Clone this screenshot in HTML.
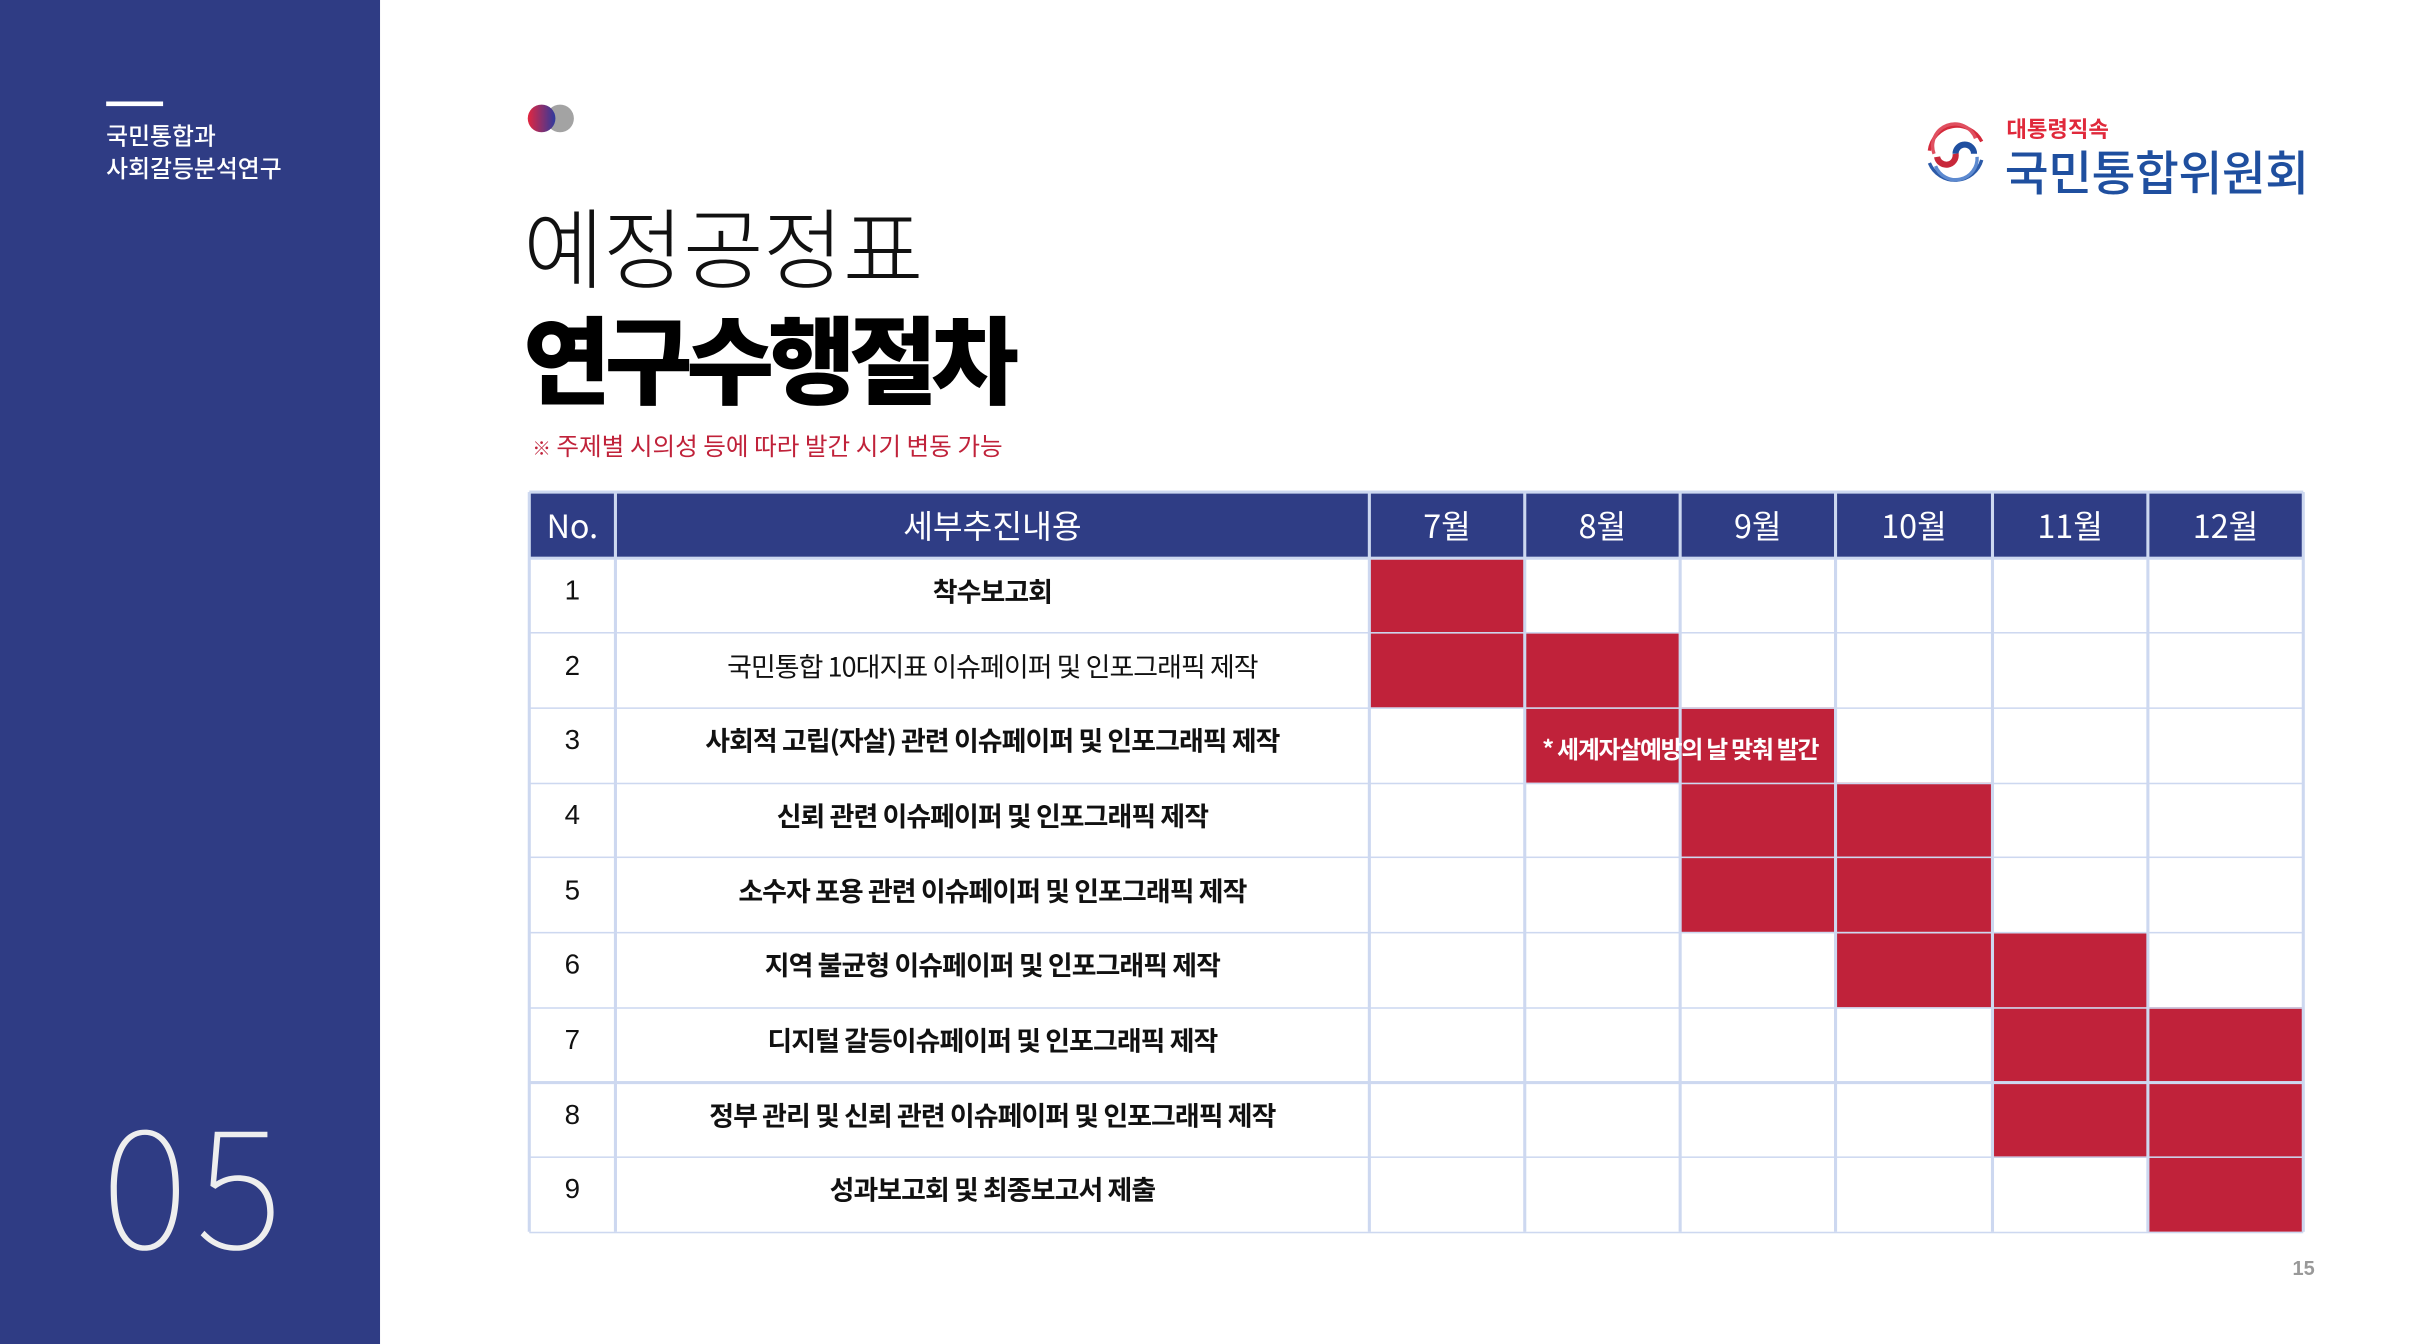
<!DOCTYPE html>
<html><head><meta charset="utf-8">
<style>
html,body{margin:0;padding:0;width:2412px;height:1344px;overflow:hidden;background:#fff}
#stage{position:absolute;left:0;top:0;width:1568px;height:874px;transform:scale(1.5386,1.53776);transform-origin:0 0;font-family:"Liberation Sans","Noto Sans CJK KR",sans-serif}
.abs{position:absolute}
#side{left:0;top:0;width:247px;height:874px;background:#2f3c84}
.cell{position:absolute;display:flex;align-items:center;justify-content:center;box-sizing:border-box;white-space:nowrap}
</style></head><body>
<div id="stage">
 <div id="side" class="abs">
  <div class="abs" style="left:69px;top:66px;width:37px;height:3px;background:#fff"></div>
  <div class="abs" style="left:69px;top:78px;color:#fff;font-size:15.5px;line-height:21px;font-family:'Noto Sans CJK KR',sans-serif;font-weight:500">국민통합과<br>사회갈등분석연구</div>
  <div class="abs" style="left:66px;top:706px;color:#eee;font-size:108px;line-height:120px;font-family:'Noto Sans CJK KR',sans-serif;font-weight:100;letter-spacing:5px">05</div>
 </div>
 <div class="abs" style="top:68px;width:18px;height:18px;border-radius:50%;background:#a3a3a3;left:355px"></div>
 <div class="abs" style="left:343px;top:68px;width:18px;height:18px;border-radius:50%;background:linear-gradient(90deg,#e3263f,#2d3a9e)"></div>
 <div class="abs" style="left:340px;top:124px;font-size:57px;line-height:70px;font-family:'Noto Sans CJK KR',sans-serif;font-weight:300;color:#111;letter-spacing:-0.5px">예정공정표</div>
 <div class="abs" style="left:340px;top:193px;font-size:62px;line-height:76px;font-family:'Noto Sans CJK KR',sans-serif;font-weight:900;color:#000;letter-spacing:-4px">연구수행절차</div>
 <div class="abs" style="left:346px;top:278px;font-size:16px;line-height:22px;font-family:'Noto Sans CJK KR',sans-serif;color:#c0223a"><span style="font-size:12px">※</span> 주제별 시의성 등에 따라 발간 시기 변동 가능</div>
 <div class="abs" style="left:1248px;top:72px;width:270px;height:60px">
  <svg class="abs" style="left:0;top:6px" width="46" height="46" viewBox="0 0 46 46">
   <g fill="none" stroke-width="2.2">
    <path d="M40 14 A18 18 0 0 0 6 20" stroke="#d42a3b"/><path d="M36 12 A14 14 0 0 0 9 22" stroke="#e05060"/>
    <path d="M6 28 A18 18 0 0 0 40 26" stroke="#2b5aa8"/><path d="M10 30 A14 14 0 0 0 37 24" stroke="#5d8ad0"/>
    <path d="M23 22 A6 6 0 0 1 35 22" stroke="#1f4fa0" stroke-width="4"/><path d="M11 24 A6 6 0 0 0 23 22" stroke="#c8283a" stroke-width="4"/>
   </g></svg>
  <div class="abs" style="left:56px;top:2px;font-size:14.5px;font-weight:700;color:#e0293b;font-family:'Noto Sans CJK KR',sans-serif;line-height:20px">대통령직속</div>
  <div class="abs" style="left:55px;top:20px;font-size:31px;font-weight:500;color:#1f4f9f;font-family:'Noto Sans CJK KR',sans-serif;line-height:38px;letter-spacing:-0.3px">국민통합위원회</div>
 </div>
 <div id="tbl" class="abs" style="left:0;top:0"></div>
 <div class="abs" style="left:1490px;top:817px;font-size:13px;color:#999;font-weight:700">15</div>
</div>
<script>
const months=["7월","8월","9월","10월","11월","12월"];
const tasks=["착수보고회","국민통합 10대지표 이슈페이퍼 및 인포그래픽 제작","사회적 고립(자살) 관련 이슈페이퍼 및 인포그래픽 제작","신뢰 관련 이슈페이퍼 및 인포그래픽 제작","소수자 포용 관련 이슈페이퍼 및 인포그래픽 제작","지역 불균형 이슈페이퍼 및 인포그래픽 제작","디지털 갈등이슈페이퍼 및 인포그래픽 제작","정부 관리 및 신뢰 관련 이슈페이퍼 및 인포그래픽 제작","성과보고회 및 최종보고서 제출"];
const startMonth=[0,0,1,2,2,3,4,4,5];
const endMonth=[0,1,2,3,3,4,5,5,5];
const barNotes=["","","* 세계자살예방의 날 맞춰 발간","","","","","",""];
const T=document.getElementById('tbl');
const cols=[344,400,890,991,1092,1193,1295,1396,1497];
const top0=320,hH=43,rowH=48.7;
const NAVY="#2f3d85",RED="#c0223a",LINE="#cdd8f0";
function rowY(i){return top0+hH+i*rowH;}
function monthX(m){return cols[2+m];}
function box(x,y,w,h,style){const d=document.createElement('div');d.className='cell';d.style.cssText=`left:${x}px;top:${y}px;width:${w}px;height:${h}px;`+style;T.appendChild(d);return d;}
let h=box(cols[0],top0,cols[8]-cols[0],hH,`background:${NAVY}`);


let hn=box(cols[0],top0,cols[1]-cols[0],hH,'color:#fff;font-size:21px;font-family:"Noto Sans CJK KR",sans-serif');hn.textContent='No.';


let hc=box(cols[1],top0,cols[2]-cols[1],hH,'color:#fff;font-size:21px;font-family:"Noto Sans CJK KR",sans-serif');hc.textContent='세부추진내용';


months.forEach((m,i)=>{const d=box(monthX(i),top0,monthX(i+1)-monthX(i),hH,'color:#fff;font-size:21px;font-family:"Noto Sans CJK KR",sans-serif');d.textContent=m;

});
tasks.forEach((t,i)=>{
 const x=monthX(startMonth[i]),x2=monthX(endMonth[i]+1);
 const b=box(x,rowY(i),x2-x,rowH,`background:${RED};color:#fff;font-size:15.5px;font-weight:700;font-family:"Noto Sans CJK KR",sans-serif;letter-spacing:-0.8px;padding-top:4px`);
 
 
 if(barNotes[i]){const s=document.createElement('span');s.textContent=barNotes[i];s.style.position='relative';s.style.zIndex='5';b.appendChild(s);
 
 }
 const n=box(cols[0],rowY(i),cols[1]-cols[0],rowH,'font-size:18px;color:#111;padding-bottom:6px');n.textContent=String(i+1);
 
 
 const c=box(cols[1],rowY(i),cols[2]-cols[1],rowH,`font-size:17.5px;color:#111;font-family:"Noto Sans CJK KR",sans-serif;letter-spacing:-0.6px;padding-bottom:6px;font-weight:${i==1?400:700}`);c.textContent=t;
 
 
});
const totalH=rowY(tasks.length)-top0;
cols.forEach((x)=>{const l=box(x-0.6,top0,1.3,totalH,`background:${LINE};z-index:3`);
 
 });
for(let i=0;i<=tasks.length;i++){const y=i==0?top0:rowY(i);const l=box(cols[0],y-0.6,cols[8]-cols[0],1.3,`background:${LINE};z-index:3`);
 
 }
const l2=box(cols[0],rowY(0)-0.6,cols[8]-cols[0],1.3,`background:${LINE};z-index:3`);


</script>
</body></html>
